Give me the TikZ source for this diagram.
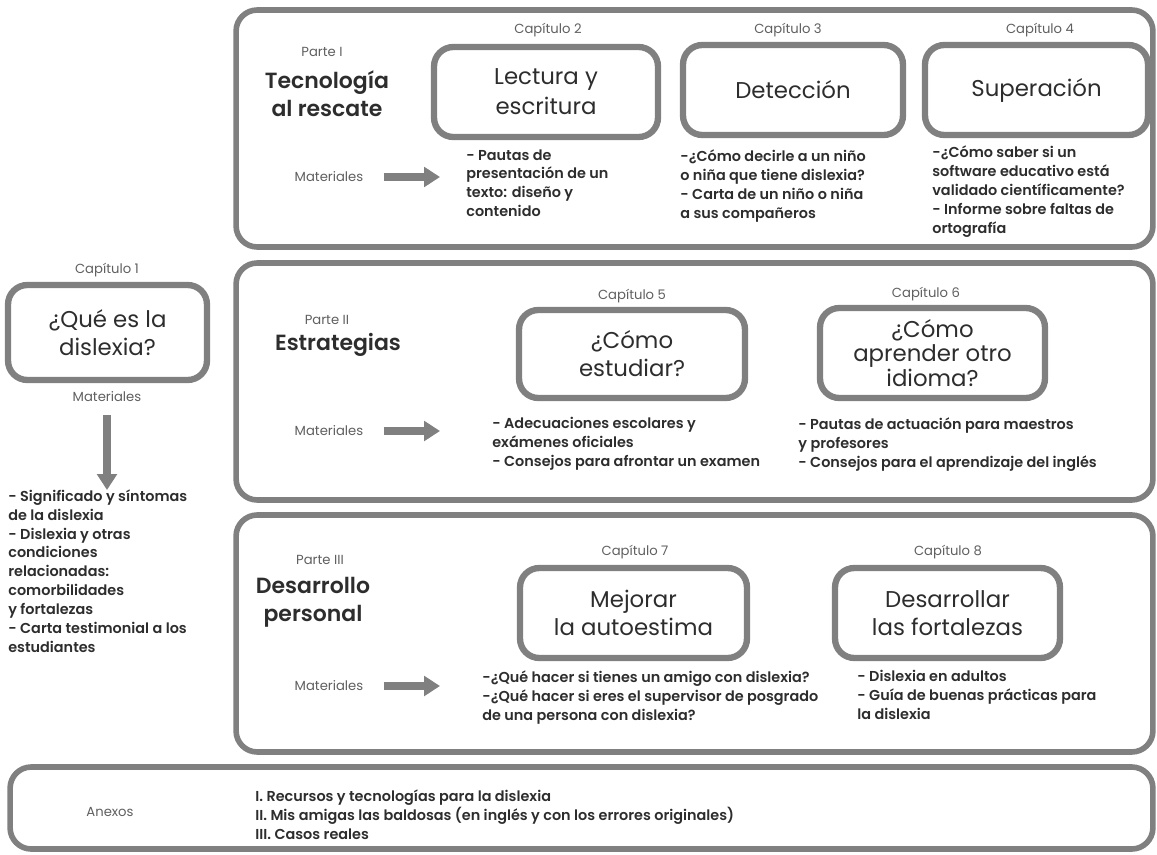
\documentclass[tikz,border=0pt]{standalone}
\usepackage{fontspec}
\setmainfont{Poppins}[BoldFont={Poppins SemiBold}]
\usetikzlibrary{arrows.meta}

\definecolor{framegray}{RGB}{128,128,128}
\definecolor{inkgray}{RGB}{45,45,45}
\definecolor{lblgray}{RGB}{95,95,95}

\begin{document}
\begin{tikzpicture}[x=0.02cm,y=-0.02cm]
	% styles for frames, boxes and texts
	\tikzset{partframe/.style={draw=framegray,line width=3.2pt,rounded corners=12pt,inner sep=0pt},
		chapbox/.style={draw=framegray,line width=3.6pt,rounded corners=11pt,align=center,inner sep=0pt,
			text=inkgray,font=\fontsize{13}{16}\selectfont},
		chaplbl/.style={text=lblgray,font=\fontsize{7.5}{9}\selectfont},
		parttitle/.style={text=inkgray,align=center,font=\bfseries\fontsize{12.5}{16}\selectfont},
		mattext/.style={anchor=north west,inner sep=0pt,align=left,text=inkgray,
			font=\bfseries\fontsize{8.2}{10.8}\selectfont},
		matarrow/.style={draw=framegray,line width=4pt,shorten <=8pt,-{Triangle[length=9pt,width=11pt]}}}
	\useasboundingbox (0,0) rectangle (1157,855);
	
	% Draw the part frames
	\node[partframe,minimum width=18.34cm,minimum height=4.74cm] (part1) at (694.5,128.5) {};
	\node[partframe,minimum width=18.34cm,minimum height=4.74cm] (part2) at (694.5,381.5) {};
	\node[partframe,minimum width=18.34cm,minimum height=4.74cm] (part3) at (694.5,633.5) {};
	\node[partframe,minimum width=22.86cm,minimum height=1.64cm] (annex) at (581.5,808) {};
	
	% part titles
	\node[chaplbl] (p1lbl) at (322,52) {Parte I};
	\node[parttitle] (p1) at (327,94) {Tecnología\\al rescate};
	\node[chaplbl] (p2lbl) at (327,320) {Parte II};
	\node[parttitle] (p2) at (338,345) {Estrategias};
	\node[chaplbl] (p3lbl) at (320,560) {Parte III};
	\node[parttitle] (p3) at (313,602) {Desarrollo\\personal};
	
	% chapter boxes
	\node[chapbox,minimum width=3.98cm,minimum height=1.9cm] (ch1) at (107.5,332.5) {¿Qué es la\\dislexia?};
	\node[chapbox,minimum width=4.48cm,minimum height=1.8cm,font=\fontsize{13}{17}\selectfont] (ch2) at (546,92) {Lectura y\\escritura};
	\node[chapbox,minimum width=4.4cm,minimum height=1.8cm] (ch3) at (793,90) {Detección};
	\node[chapbox,minimum width=4.46cm,minimum height=1.8cm] (ch4) at (1036.5,90) {Superación};
	\node[chapbox,minimum width=4.52cm,minimum height=1.76cm] (ch5) at (632,354) {¿Cómo\\estudiar?};
	\node[chapbox,minimum width=4.5cm,minimum height=1.8cm,font=\fontsize{13}{14}\selectfont] (ch6) at (932.5,353) {¿Cómo\\aprender otro\\idioma?};
	\node[chapbox,minimum width=4.54cm,minimum height=1.8cm] (ch7) at (633.5,613) {Mejorar\\la autoestima};
	\node[chapbox,minimum width=4.5cm,minimum height=1.8cm] (ch8) at (947.5,613) {Desarrollar\\las fortalezas};
	
	% chapter labels
	\foreach \n/\x/\y in {1/107/270,2/548/30,3/788/30,4/1040/30,5/632/296,6/926/294,7/635/552,8/948/552} {
		\node[chaplbl] (lbl\n) at (\x,\y) {Capítulo \n};
	}
	
	% materials of each chapter
	\node[mattext] (txt1) at (8,489) {- Significado y síntomas\\de la dislexia\\- Dislexia y otras\\condiciones\\relacionadas:\\comorbilidades\\y fortalezas\\- Carta testimonial a los\\estudiantes};
	\node[mattext] (txt2) at (466,149) {- Pautas de\\presentación de un\\texto: diseño y\\contenido};
	\node[mattext] (txt3) at (680,149) {-¿Cómo decirle a un niño\\o niña que tiene dislexia?\\- Carta de un niño o niña\\a sus compañeros};
	\node[mattext] (txt4) at (932,145) {-¿Cómo saber si un\\software educativo está\\validado científicamente?\\- Informe sobre faltas de\\ortografía};
	\node[mattext] (txt5) at (492,417) {- Adecuaciones escolares y\\exámenes oficiales\\- Consejos para afrontar un examen};
	\node[mattext] (txt6) at (798,417) {- Pautas de actuación para maestros\\y profesores\\- Consejos para el aprendizaje del inglés};
	\node[mattext] (txt7) at (482,670) {-¿Qué hacer si tienes un amigo con dislexia?\\-¿Qué hacer si eres el supervisor de posgrado\\de una persona con dislexia?};
	\node[mattext] (txt8) at (857,670) {- Dislexia en adultos\\- Guía de buenas prácticas para\\la dislexia};
	
	% draw the Materiales arrows
	\node[chaplbl] (mat0) at (107,397) {Materiales};
	\coordinate (tip0) at (107,490);
	\draw[matarrow,shorten <=4pt] (mat0.south) -- (tip0);
	\foreach \n/\y in {1/177,2/431,3/686} {
		\node[chaplbl] (mat\n) at (329,\y) {Materiales};
		\coordinate (tip\n) at (440,\y);
		\draw[matarrow] (mat\n.east) -- (tip\n);
	}
	
	% annexes
	\node[chaplbl] (anxlbl) at (110,812) {Anexos};
	\node[mattext] (anx) at (255,789) {I. Recursos y tecnologías para la dislexia\\II. Mis amigas las baldosas (en inglés y con los errores originales)\\III. Casos reales};
\end{tikzpicture}
\end{document}
